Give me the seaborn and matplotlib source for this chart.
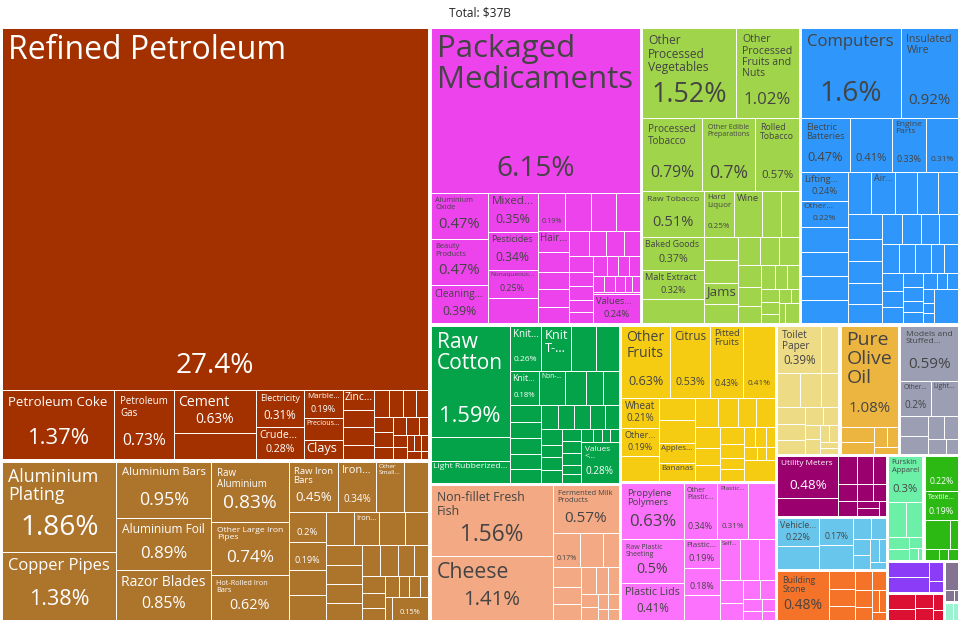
import matplotlib
matplotlib.use("Agg")
import matplotlib.pyplot as plt
from matplotlib.patches import Rectangle
from matplotlib.font_manager import FontProperties
from matplotlib.colors import to_rgb
import seaborn as sns

# share of total exports (%), per sector, in layout order
sectors = ["Mineral Products", "Metals", "Chemical Products", "Foodstuffs", "Machines",
           "Textiles", "Animal Products", "Vegetable Products", "Plastics and Rubbers",
           "Paper Goods", "Animal and Vegetable Bi-Products", "Miscellaneous", "Instruments",
           "Transportation", "Stone And Glass", "Animal Hides", "Footwear and Headwear",
           "Weapons", "Wood Products", "Arts and Antiques", "Precious Metals"]

sector_colors = ["#a33100", "#ad742c", "#ec43ec", "#a0d44a", "#2f97fb",
                 "#04a349", "#f2a984", "#f5cc12", "#fd72fd",
                 "#eedb86", "#ecb540", "#9c9fb4", "#9b006f",
                 "#68c6ec", "#f47328", "#6cf0a8", "#2cb914",
                 "#8a3cf6", "#dc1033", "#857392", "#9bf2d1"]

mineral_values = [27.4, 1.37, 0.73, 0.63, 0.38, 0.31, 0.28, 0.19, 0.15, 0.13, 0.11, 0.1, 0.1,
                  0.08, 0.07, 0.07, 0.06, 0.06, 0.05, 0.05, 0.04, 0.04, 0.04, 0.03, 0.03, 0.03,
                  0.02, 0.02, 0.02, 0.02, 0.01]
mineral_names = {0: "Refined Petroleum", 1: "Petroleum Coke", 2: "Petroleum Gas", 3: "Cement",
                 5: "Electricity", 6: "Crude...", 7: "Marble...", 8: "Precious...", 9: "Clays",
                 10: "Zinc..."}

metal_values = [1.86, 1.38, 0.95, 0.89, 0.85, 0.83, 0.74, 0.62, 0.45, 0.34, 0.25, 0.22, 0.2,
                0.19, 0.17, 0.17, 0.16, 0.15, 0.15, 0.14, 0.13, 0.12, 0.12, 0.11, 0.1, 0.1,
                0.09, 0.08, 0.07, 0.06, 0.05, 0.05, 0.04, 0.04, 0.03, 0.03, 0.15]
metal_names = {0: "Aluminium Plating", 1: "Copper Pipes", 2: "Aluminium Bars",
               3: "Aluminium Foil", 4: "Razor Blades", 5: "Raw Aluminium",
               6: "Other Large Iron Pipes", 7: "Hot-Rolled Iron Bars", 8: "Raw Iron Bars",
               9: "Iron...", 10: "Other Small...", 12: "", 13: "", 17: "Iron...", -1: ""}

chemical_values = [6.15, 0.47, 0.47, 0.39, 0.35, 0.34, 0.25, 0.23, 0.19, 0.18, 0.17, 0.16,
                   0.12, 0.11, 0.1, 0.1, 0.09, 0.09, 0.08, 0.08, 0.07, 0.07, 0.06, 0.06, 0.05,
                   0.05, 0.05, 0.04, 0.04, 0.04, 0.03, 0.03, 0.03, 0.02, 0.02, 0.02, 0.24]
chemical_names = {0: "Packaged Medicaments", 1: "Aluminium Oxide", 2: "Beauty Products",
                  3: "Cleaning...", 4: "Mixed...", 5: "Pesticides", 6: "Nonaqueous...",
                  8: "", 12: "Hair...", -1: "Values..."}

food_values = [1.52, 1.02, 0.79, 0.7, 0.57, 0.51, 0.37, 0.32, 0.27, 0.25, 0.23, 0.15, 0.15,
               0.14, 0.14, 0.13, 0.12, 0.11, 0.1, 0.1, 0.09, 0.08, 0.07, 0.06, 0.05, 0.05,
               0.04, 0.04, 0.03, 0.03, 0.02, 0.02, 0.05]
food_names = {0: "Other Processed Vegetables", 1: "Other Processed Fruits and Nuts",
              2: "Processed Tobacco", 3: "Other Edible Preparations", 4: "Rolled Tobacco",
              5: "Raw Tobacco", 6: "Baked Goods", 7: "Malt Extract", 9: "Hard Liquor",
              10: "Wine", 15: "Jams"}

machine_values = [1.6, 0.92, 0.47, 0.41, 0.33, 0.31, 0.24, 0.22, 0.21, 0.2, 0.2, 0.19, 0.18,
                  0.18, 0.17, 0.16, 0.15, 0.15, 0.14, 0.13, 0.13, 0.12, 0.11, 0.1, 0.1, 0.1,
                  0.09, 0.08, 0.08, 0.07, 0.07, 0.07, 0.06, 0.06, 0.05, 0.05, 0.04, 0.04, 0.04,
                  0.03, 0.03, 0.03, 0.02, 0.02, 0.15]
machine_names = {0: "Computers", 1: "Insulated Wire", 2: "Electric Batteries", 3: "",
                 4: "Engine Parts", 5: "", 6: "Lifting...", 7: "Other...", 13: "Air..."}

textile_values = [1.59, 0.34, 0.31, 0.26, 0.24, 0.2, 0.19, 0.18, 0.16, 0.13, 0.1, 0.1, 0.1,
                  0.09, 0.09, 0.08, 0.08, 0.08, 0.07, 0.07, 0.07, 0.06, 0.06, 0.05, 0.05, 0.05,
                  0.04, 0.04, 0.04, 0.03, 0.03, 0.03, 0.02, 0.02, 0.02, 0.28]
textile_names = {0: "Raw Cotton", 2: "Light Rubberized...", 3: "Knit...", 4: "Knit T-...",
                 7: "Knit...", 8: "Non-...", -1: "Values <..."}

animal_values = [1.56, 1.41, 0.57, 0.17, 0.14, 0.1, 0.1, 0.09, 0.08, 0.07, 0.06, 0.05, 0.04,
                 0.04, 0.03, 0.03, 0.02, 0.02]
animal_names = {0: "Non-fillet Fresh Fish", 1: "Cheese", 2: "Fermented Milk Products", 3: ""}

vegetable_values = [0.63, 0.53, 0.43, 0.41, 0.21, 0.19, 0.17, 0.15, 0.15, 0.13, 0.12, 0.12,
                    0.11, 0.1, 0.1, 0.09, 0.08, 0.07, 0.07, 0.06, 0.05, 0.05, 0.04, 0.04, 0.03,
                    0.03, 0.02, 0.02, 0.12]
vegetable_names = {0: "Other Fruits", 1: "Citrus", 2: "Pitted Fruits", 3: "", 4: "Wheat",
                   5: "Other...", 9: "Apples...", 10: "Bananas"}

plastic_values = [0.63, 0.5, 0.41, 0.34, 0.31, 0.27, 0.19, 0.18, 0.16, 0.15, 0.14, 0.12, 0.1,
                  0.07, 0.06, 0.05, 0.04, 0.03, 0.03, 0.02]
plastic_names = {0: "Propylene Polymers", 1: "Raw Plastic Sheeting", 2: "Plastic Lids",
                 3: "Other Plastic...", 4: "Plastic...", 6: "Plastic...", 7: "", 9: "Self..."}

paper_values = [0.39, 0.15, 0.14, 0.13, 0.11, 0.09, 0.08, 0.07, 0.06, 0.05, 0.04, 0.04, 0.03,
                0.03, 0.02, 0.02]
paper_names = {0: "Toilet Paper"}

oil_values = [1.08, 0.1, 0.07, 0.05, 0.04, 0.03]
oil_names = {0: "Pure Olive Oil"}

misc_values = [0.59, 0.2, 0.18, 0.1, 0.09, 0.07, 0.06, 0.05, 0.03]
misc_names = {0: "Models and Stuffed...", 1: "Other...", 2: "Light..."}

instrument_values = [0.48, 0.2, 0.1, 0.08, 0.07, 0.06, 0.05, 0.05, 0.04, 0.03, 0.03, 0.02]
instrument_names = {0: "Utility Meters"}

transport_values = [0.22, 0.18, 0.17, 0.15, 0.07, 0.06, 0.05, 0.04, 0.04, 0.03, 0.02]
transport_names = {0: "Vehicle...", 2: ""}

stone_values = [0.48, 0.09, 0.08, 0.07, 0.06, 0.05, 0.05, 0.04, 0.03, 0.03, 0.02]
stone_names = {0: "Building Stone"}

hide_values = [0.3, 0.12, 0.11, 0.05, 0.04, 0.03, 0.02, 0.01]
hide_names = {0: "Furskin Apparel"}

footwear_values = [0.22, 0.19, 0.14, 0.04, 0.03, 0.02, 0.02]
footwear_names = {0: "", 1: "Textile..."}

weapon_values = [0.12, 0.12, 0.05, 0.03]
wood_values = [0.08, 0.06, 0.05, 0.04, 0.03, 0.02]
arts_values = [0.08, 0.02, 0.01]
precious_values = [0.03, 0.02]

product_values = [mineral_values, metal_values, chemical_values, food_values, machine_values,
                  textile_values, animal_values, vegetable_values, plastic_values,
                  paper_values, oil_values, misc_values, instrument_values, transport_values,
                  stone_values, hide_values, footwear_values, weapon_values, wood_values,
                  arts_values, precious_values]
product_names = [mineral_names, metal_names, chemical_names, food_names, machine_names,
                 textile_names, animal_names, vegetable_names, plastic_names, paper_names,
                 oil_names, misc_names, instrument_names, transport_names, stone_names,
                 hide_names, footwear_names, {}, {}, {}, {}]

# tiles that show only their name, no share
name_only = {"Mineral Products": [8, 9, 10], "Metals": [10, 17], "Chemical Products": [12],
             "Foodstuffs": [10, 15], "Machines": [13], "Textiles": [2, 4, 8],
             "Vegetable Products": [9, 10], "Plastics and Rubbers": [9], "Miscellaneous": [2]}

total_label = "Total: $37B"

PHI = (1 + 5 ** 0.5) / 2


def squarify(values, x0, y0, x1, y1):
    # squarified treemap (same rule as d3.treemapSquarify)
    rects = [None] * len(values)
    remaining = float(sum(values))
    n = len(values)
    i0 = 0
    while i0 < n:
        dx, dy = x1 - x0, y1 - y0
        i1 = i0 + 1
        s = values[i0]
        vmin = vmax = s
        alpha = max(dy / dx, dx / dy) / (remaining * PHI)
        beta = s * s * alpha
        best = max(vmax / beta, beta / vmin)
        while i1 < n:
            v = values[i1]
            lo, hi = min(vmin, v), max(vmax, v)
            beta = (s + v) ** 2 * alpha
            r = max(hi / beta, beta / lo)
            if r > best:
                break
            s, vmin, vmax, best = s + v, lo, hi, r
            i1 += 1
        if dx < dy:
            h = dy * s / remaining
            xx = x0
            for i in range(i0, i1):
                w = dx * values[i] / s
                rects[i] = (xx, y0, w, h)
                xx += w
            y0 += h
        else:
            w = dx * s / remaining
            yy = y0
            for i in range(i0, i1):
                h = dy * values[i] / s
                rects[i] = (x0, yy, w, h)
                yy += h
            x0 += w
        remaining -= s
        i0 = i1
    return rects


sns.set_theme(style="white")
FONT = "Open Sans"
plt.rcParams["font.family"] = [FONT, "DejaVu Sans"]
palette = sns.color_palette(sector_colors)

fig = plt.figure(figsize=(9.6, 6.24), dpi=100)
ax = fig.add_axes([0, 0, 1, 1])
ax.set_xlim(0, 960)
ax.set_ylim(624, 0)
ax.axis("off")

renderer = fig.canvas.get_renderer()
measure_font = FontProperties(family=FONT, size=72)  # 72pt = 100px
_widths = {}


def width_px(text, px):
    if text not in _widths:
        _widths[text] = renderer.get_text_width_height_descent(text, measure_font, ismath=False)[0] / 100.0
    return _widths[text] * px


def wrap(name, px, max_w):
    lines, cur = [], ""
    for word in name.split():
        cand = (cur + " " + word).strip()
        if not cur or width_px(cand, px) <= max_w:
            cur = cand
        else:
            lines.append(cur)
            cur = word
    lines.append(cur)
    if any(width_px(l, px) > max_w for l in lines):
        return None
    return lines


def text_color(c):
    r, g, b = to_rgb(c)
    yiq = (r * 299 + g * 587 + b * 114) / 1000 * 255
    return "#444444" if yiq >= 128 else "white"


def label_tile(x, y, w, h, name, value, show_pct, color):
    if w < 14 or h < 10:
        return
    tc = text_color(color)
    pad = max(2.0, min(6.0, 0.1 * min(w, h)))
    aw = w - 2 * pad
    pct_px = 0
    pct = f"{value:g}%"
    if show_pct:
        pct_px = min(0.92 * aw / width_px(pct, 1.0), 0.32 * h, 28)
        if pct_px < 5:
            pct_px = 0
    if name:
        ah = h - 2 * pad - 1.3 * pct_px
        size = 32.0
        lines = None
        while size >= 5.5:
            lines = wrap(name, size, aw)
            if lines and len(lines) * size * 1.18 <= ah:
                break
            size -= 0.25
        if size < 5.5:
            size = 5.5
            lines = wrap(name, size, aw)
            if lines:
                lines = lines[:max(1, int((h - 2 * pad) / (size * 1.18)))]
        if lines:
            ax.text(x + pad, y + pad, "\n".join(lines), fontsize=size * 0.72, ha="left",
                    va="top", color=tc, linespacing=1.05)
    if pct_px:
        cy = y + h - (0.5 * pct_px + min(10, 0.15 * h))
        ax.text(x + w / 2, cy, pct, fontsize=pct_px * 0.72, ha="center", va="center", color=tc)


sector_totals = [sum(v) for v in product_values]
sector_rects = squarify(sector_totals, 1, 27, 959, 621)
gap = 1.2

for k, (sx, sy, sw, sh) in enumerate(sector_rects):
    color = palette[k]
    values = product_values[k]
    names = {(i if i >= 0 else len(values) + i): t for i, t in product_names[k].items()}
    only = set(name_only.get(sectors[k], []))
    tiles = squarify(values, sx + gap, sy + gap, sx + sw - gap, sy + sh - gap)
    for i, (x, y, w, h) in enumerate(tiles):
        ax.add_patch(Rectangle((x, y), w, h, facecolor=color, edgecolor="white", linewidth=0.7))
    for i, (x, y, w, h) in enumerate(tiles):
        if i in names:
            label_tile(x, y, w, h, names[i], values[i], i not in only, color)

ax.text(480, 13, total_label, ha="center", va="center", fontsize=8.6, color="#222222")

fig.savefig("out.png", dpi=100)
